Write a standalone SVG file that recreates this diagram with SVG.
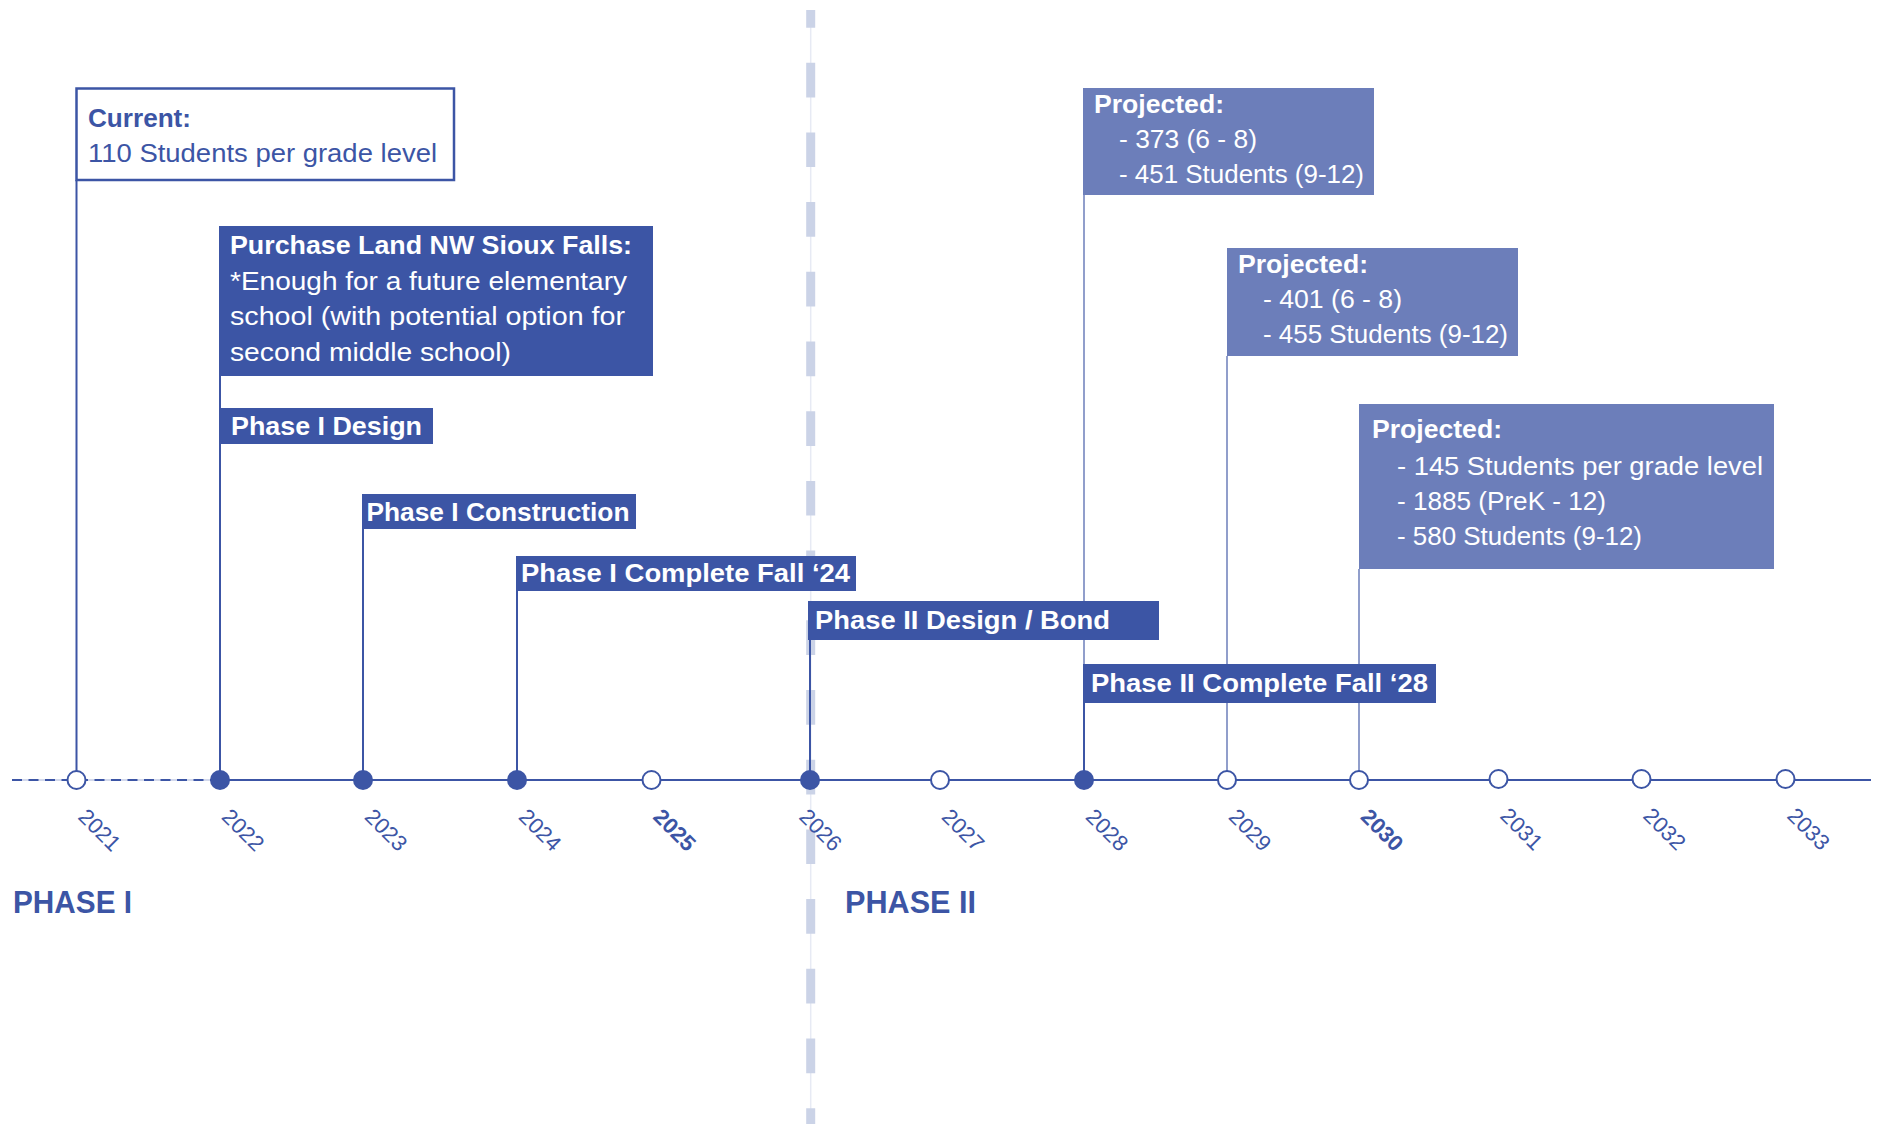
<svg xmlns="http://www.w3.org/2000/svg" width="1884" height="1124" viewBox="0 0 1884 1124">
<style>
  .bg{fill:#ffffff}
  .dkbox{fill:#3c55a5}
  .ltbox{fill:#6c7eba}
  .wbold{font-family:"Liberation Sans",Arial,sans-serif;font-weight:bold;font-size:25px;fill:#ffffff}
  .wreg{font-family:"Liberation Sans",Arial,sans-serif;font-size:25px;fill:#ffffff}
  .bbold{font-family:"Liberation Sans",Arial,sans-serif;font-weight:bold;font-size:25px;fill:#3c55a5}
  .breg{font-family:"Liberation Sans",Arial,sans-serif;font-size:25px;fill:#3c55a5}
  .year{font-family:"Liberation Sans",Arial,sans-serif;font-size:22px;fill:#3c55a5}
  .yearb{font-family:"Liberation Sans",Arial,sans-serif;font-size:22px;font-weight:bold;fill:#3c55a5}
  .phase{font-family:"Liberation Sans",Arial,sans-serif;font-weight:bold;font-size:31px;fill:#3c55a5}
  .stem{stroke:#3c55a5;stroke-width:2;fill:none}
  .stemlt{stroke:#6c7eba;stroke-width:1.5;fill:none}
  .dotf{fill:#3c55a5}
  .doto{fill:#ffffff;stroke:#3c55a5;stroke-width:2}
</style>
<rect class="bg" x="0" y="0" width="1884" height="1124"/>

<g id="divider">
  <line x1="810.7" y1="10" x2="810.7" y2="1124" stroke="#e7eaf4" stroke-width="1.5"/>
  <line x1="810.7" y1="10" x2="810.7" y2="1124" stroke="#cbd3e7" stroke-width="9" stroke-dasharray="34.7 35" stroke-dashoffset="17"/>
</g>

<g id="connectors">
  <line class="stem" x1="76.5" y1="180" x2="76.5" y2="780"/>
  <line class="stem" x1="220" y1="376" x2="220" y2="780"/>
  <line class="stem" x1="363" y1="529" x2="363" y2="780"/>
  <line class="stem" x1="517" y1="591" x2="517" y2="780"/>
  <line class="stem" x1="810" y1="640" x2="810" y2="780"/>
  <line class="stemlt" x1="1084" y1="195" x2="1084" y2="664"/>
  <line class="stem" x1="1084" y1="703" x2="1084" y2="780"/>
  <line class="stemlt" x1="1227" y1="356" x2="1227" y2="780"/>
  <line class="stemlt" x1="1359" y1="569" x2="1359" y2="780"/>
  <line x1="12" y1="780" x2="220" y2="780" stroke="#c5cde6" stroke-width="1.5"/>
  <line x1="12" y1="780" x2="220" y2="780" stroke="#3c55a5" stroke-width="2" stroke-dasharray="10 6.5"/>
  <line x1="220" y1="780" x2="1871" y2="780" stroke="#3c55a5" stroke-width="2"/>
</g>

<g id="dots">
  <circle class="doto" cx="76.5" cy="780" r="9"/>
  <circle class="dotf" cx="220" cy="780" r="10"/>
  <circle class="dotf" cx="363" cy="780" r="10"/>
  <circle class="dotf" cx="517" cy="780" r="10"/>
  <circle class="doto" cx="651.5" cy="780" r="9"/>
  <circle class="dotf" cx="810" cy="780" r="10"/>
  <circle class="doto" cx="940" cy="780" r="9"/>
  <circle class="dotf" cx="1084" cy="780" r="10"/>
  <circle class="doto" cx="1227" cy="780" r="9"/>
  <circle class="doto" cx="1359" cy="780" r="9"/>
  <circle class="doto" cx="1498.5" cy="779" r="9"/>
  <circle class="doto" cx="1641.5" cy="779" r="9"/>
  <circle class="doto" cx="1785.5" cy="779" r="9"/>
</g>

<g id="year-labels">
  <text class="year" transform="translate(77,818) rotate(45)">2021</text>
  <text class="year" transform="translate(220.5,818) rotate(45)">2022</text>
  <text class="year" transform="translate(363.5,818) rotate(45)">2023</text>
  <text class="year" transform="translate(517.5,818) rotate(45)">2024</text>
  <text class="yearb" transform="translate(652,818) rotate(45)">2025</text>
  <text class="year" transform="translate(798,818) rotate(45)">2026</text>
  <text class="year" transform="translate(940.5,818) rotate(45)">2027</text>
  <text class="year" transform="translate(1084.5,818) rotate(45)">2028</text>
  <text class="year" transform="translate(1227.5,818) rotate(45)">2029</text>
  <text class="yearb" transform="translate(1359.5,818) rotate(45)">2030</text>
  <text class="year" transform="translate(1499,817) rotate(45)">2031</text>
  <text class="year" transform="translate(1642,817) rotate(45)">2032</text>
  <text class="year" transform="translate(1786,817) rotate(45)">2033</text>
</g>

<g id="node-current">
  <rect x="76.5" y="88.5" width="377.5" height="91.5" fill="#ffffff" stroke="#3c55a5" stroke-width="2.5"/>
  <text class="bbold" x="88" y="127" textLength="103" lengthAdjust="spacingAndGlyphs">Current:</text>
  <text class="breg" x="88" y="162" textLength="349" lengthAdjust="spacingAndGlyphs">110 Students per grade level</text>
</g>

<g id="node-purchase">
  <rect class="dkbox" x="219" y="226" width="434" height="150"/>
  <text class="wbold" x="230" y="254" textLength="402" lengthAdjust="spacingAndGlyphs">Purchase Land NW Sioux Falls:</text>
  <text class="wreg" x="230" y="290" textLength="397" lengthAdjust="spacingAndGlyphs">*Enough for a future elementary</text>
  <text class="wreg" x="230" y="325" textLength="395" lengthAdjust="spacingAndGlyphs">school (with potential option for</text>
  <text class="wreg" x="230" y="361" textLength="281" lengthAdjust="spacingAndGlyphs">second middle school)</text>
</g>

<g id="node-phase1-design">
  <rect class="dkbox" x="219" y="408" width="214" height="36"/>
  <text class="wbold" x="231" y="435" textLength="191" lengthAdjust="spacingAndGlyphs">Phase I Design</text>
</g>

<g id="node-phase1-construction">
  <rect class="dkbox" x="362" y="494" width="274" height="35"/>
  <text class="wbold" x="366.5" y="521" textLength="263" lengthAdjust="spacingAndGlyphs">Phase I Construction</text>
</g>

<g id="node-phase1-complete">
  <rect class="dkbox" x="516" y="556" width="340" height="35"/>
  <text class="wbold" x="521" y="582" textLength="329" lengthAdjust="spacingAndGlyphs">Phase I Complete Fall ‘24</text>
</g>

<g id="node-phase2-design">
  <rect class="dkbox" x="808" y="601" width="351" height="39"/>
  <text class="wbold" x="815" y="629" textLength="295" lengthAdjust="spacingAndGlyphs">Phase II Design / Bond</text>
</g>

<g id="node-phase2-complete">
  <rect class="dkbox" x="1083" y="664" width="353" height="39"/>
  <text class="wbold" x="1091" y="692" textLength="337" lengthAdjust="spacingAndGlyphs">Phase II Complete Fall ‘28</text>
</g>

<g id="node-projected-2028">
  <rect class="ltbox" x="1083" y="88" width="291" height="107"/>
  <text class="wbold" x="1094" y="113" textLength="130" lengthAdjust="spacingAndGlyphs">Projected:</text>
  <text class="wreg" x="1119" y="148" textLength="138" lengthAdjust="spacingAndGlyphs">- 373 (6 - 8)</text>
  <text class="wreg" x="1119" y="183" textLength="245" lengthAdjust="spacingAndGlyphs">- 451 Students (9-12)</text>
</g>

<g id="node-projected-2029">
  <rect class="ltbox" x="1227" y="248" width="291" height="108"/>
  <text class="wbold" x="1238" y="273" textLength="130" lengthAdjust="spacingAndGlyphs">Projected:</text>
  <text class="wreg" x="1263" y="308" textLength="139" lengthAdjust="spacingAndGlyphs">- 401 (6 - 8)</text>
  <text class="wreg" x="1263" y="343" textLength="245" lengthAdjust="spacingAndGlyphs">- 455 Students (9-12)</text>
</g>

<g id="node-projected-2030">
  <rect class="ltbox" x="1359" y="404" width="415" height="165"/>
  <text class="wbold" x="1372" y="438" textLength="130" lengthAdjust="spacingAndGlyphs">Projected:</text>
  <text class="wreg" x="1397" y="475" textLength="366" lengthAdjust="spacingAndGlyphs">- 145 Students per grade level</text>
  <text class="wreg" x="1397" y="510" textLength="209" lengthAdjust="spacingAndGlyphs">- 1885 (PreK - 12)</text>
  <text class="wreg" x="1397" y="545" textLength="245" lengthAdjust="spacingAndGlyphs">- 580 Students (9-12)</text>
</g>

<g id="phase-labels">
  <text class="phase" x="13" y="913" textLength="119" lengthAdjust="spacingAndGlyphs">PHASE I</text>
  <text class="phase" x="845" y="913" textLength="131" lengthAdjust="spacingAndGlyphs">PHASE II</text>
</g>
</svg>
